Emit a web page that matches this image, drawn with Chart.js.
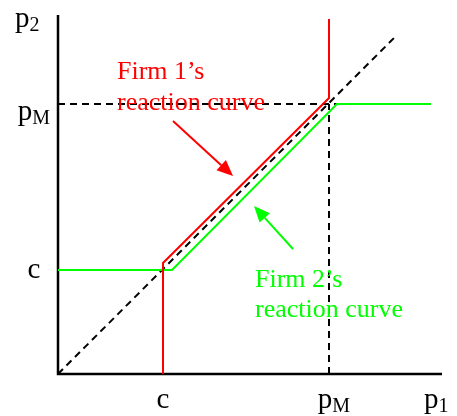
<!DOCTYPE html>
<html>
<head>
<meta charset="utf-8">
<script src="https://cdn.jsdelivr.net/npm/chart.js@4/dist/chart.umd.min.js"></script>
<style>
html, body { margin: 0; padding: 0; background: #fff; }
#wrap { width: 457px; height: 416px; }
</style>
</head>
<body>
<div id="wrap"><canvas id="chart" width="457" height="416"></canvas></div>
<script>
// 坐标单位：c ≈ 105, pM ≈ 271
const firm1X = [105, 105, 271, 271];
const firm1Y = [0, 111, 276, 355];
const firm2X = [0, 114, 279, 373];
const firm2Y = [104, 104, 270, 270];
const diagX = [0, 339];
const diagY = [0, 339];
const pmLineX = [0, 373];
const pmLineY = [270, 270];
const pmDropX = [271, 271];
const pmDropY = [0, 270];
const axisX = [0, 0, 384];
const axisY = [359, 0, 0];

const xTickValues = [105, 271];
const xTickMain = ['c', 'p'];
const xTickSub = ['', 'M'];
const yTickValues = [104, 270];
const yTickMain = ['c', 'p'];
const yTickSub = ['', 'M'];

const firm1Text = ['Firm 1\u2019s', 'reaction curve'];
const firm2Text = ['Firm 2\u2019s', 'reaction curve'];
const firm1Arrow = [[115, 253], [175, 198]];
const firm2Arrow = [[235, 125], [196, 168]];

const RED = '#ff0000';
const GREEN = '#00ff00';
const SERIF = '"Liberation Serif", "Times New Roman", serif';

function pts(xs, ys) {
    return xs.map((x, i) => ({ x: x, y: ys[i] }));
}

function line(xs, ys, color, width, dash) {
    return {
        data: pts(xs, ys),
        showLine: true,
        borderColor: color,
        borderWidth: width,
        borderDash: dash || [],
        pointRadius: 0,
        tension: 0,
        clip: false
    };
}

// 画带下标的文字，例如 p + M
function drawSub(ctx, main, sub, x, y, align) {
    ctx.font = '29px ' + SERIF;
    const w1 = ctx.measureText(main).width;
    ctx.font = '20px ' + SERIF;
    const w2 = sub ? ctx.measureText(sub).width : 0;
    let left = x;
    if (align === 'center') left = x - (w1 + w2) / 2;
    ctx.textAlign = 'left';
    ctx.textBaseline = 'alphabetic';
    ctx.font = '29px ' + SERIF;
    ctx.fillText(main, left, y);
    if (sub) {
        ctx.font = '20px ' + SERIF;
        ctx.fillText(sub, left + w1, y + 4);
    }
}

function arrow(ctx, from, to, color) {
    const ang = Math.atan2(to[1] - from[1], to[0] - from[0]);
    const len = 16, half = 7;
    const bx = to[0] - len * Math.cos(ang), by = to[1] - len * Math.sin(ang);
    ctx.strokeStyle = color;
    ctx.fillStyle = color;
    ctx.lineWidth = 2;
    ctx.beginPath();
    ctx.moveTo(from[0], from[1]);
    ctx.lineTo(bx, by);
    ctx.stroke();
    ctx.beginPath();
    ctx.moveTo(to[0], to[1]);
    ctx.lineTo(bx + half * Math.sin(ang), by - half * Math.cos(ang));
    ctx.lineTo(bx - half * Math.sin(ang), by + half * Math.cos(ang));
    ctx.closePath();
    ctx.fill();
}

const labelPlugin = {
    id: 'labels',
    afterDatasetsDraw(chart) {
        const ctx = chart.ctx;
        const sx = chart.scales.x, sy = chart.scales.y;
        const area = chart.chartArea;
        ctx.save();
        ctx.fillStyle = '#000';

        xTickValues.forEach((v, i) => {
            drawSub(ctx, xTickMain[i], xTickSub[i], sx.getPixelForValue(v) + (xTickSub[i] ? 5 : 0), area.bottom + 34, 'center');
        });
        yTickValues.forEach((v, i) => {
            drawSub(ctx, yTickMain[i], yTickSub[i], 34, sy.getPixelForValue(v) + (yTickSub[i] ? 16 : 8), 'center');
        });
        drawSub(ctx, 'p', '1', area.right - 18, area.bottom + 34, 'left');
        drawSub(ctx, 'p', '2', 15, 27, 'left');

        // 说明文字
        ctx.font = '26px ' + SERIF;
        ctx.textAlign = 'left';
        ctx.textBaseline = 'alphabetic';
        ctx.fillStyle = RED;
        ctx.fillText(firm1Text[0], sx.getPixelForValue(59), sy.getPixelForValue(295));
        ctx.fillText(firm1Text[1], sx.getPixelForValue(59), sy.getPixelForValue(264));
        ctx.fillStyle = GREEN;
        ctx.fillText(firm2Text[0], sx.getPixelForValue(197), sy.getPixelForValue(87));
        ctx.fillText(firm2Text[1], sx.getPixelForValue(197), sy.getPixelForValue(57));

        const px = p => [sx.getPixelForValue(p[0]), sy.getPixelForValue(p[1])];
        arrow(ctx, px(firm1Arrow[0]), px(firm1Arrow[1]), RED);
        arrow(ctx, px(firm2Arrow[0]), px(firm2Arrow[1]), GREEN);
        ctx.restore();
    }
};

new Chart(document.getElementById('chart'), {
    type: 'scatter',
    data: {
        datasets: [
            line(firm1X, firm1Y, RED, 2),
            line(firm2X, firm2Y, GREEN, 2),
            line(axisX, axisY, '#000', 2.5),
            line(diagX, diagY, '#000', 2, [7, 5]),
            line(pmLineX, pmLineY, '#000', 2, [7, 5]),
            line(pmDropX, pmDropY, '#000', 2, [7, 5])
        ]
    },
    options: {
        responsive: false,
        devicePixelRatio: 1,
        animation: false,
        layout: { padding: { left: 58, top: 15, right: 15, bottom: 42 } },
        plugins: { legend: { display: false }, tooltip: { enabled: false } },
        scales: {
            x: { type: 'linear', min: 0, max: 384, display: false },
            y: { type: 'linear', min: 0, max: 359, display: false }
        }
    },
    plugins: [labelPlugin]
});
</script>
</body>
</html>
